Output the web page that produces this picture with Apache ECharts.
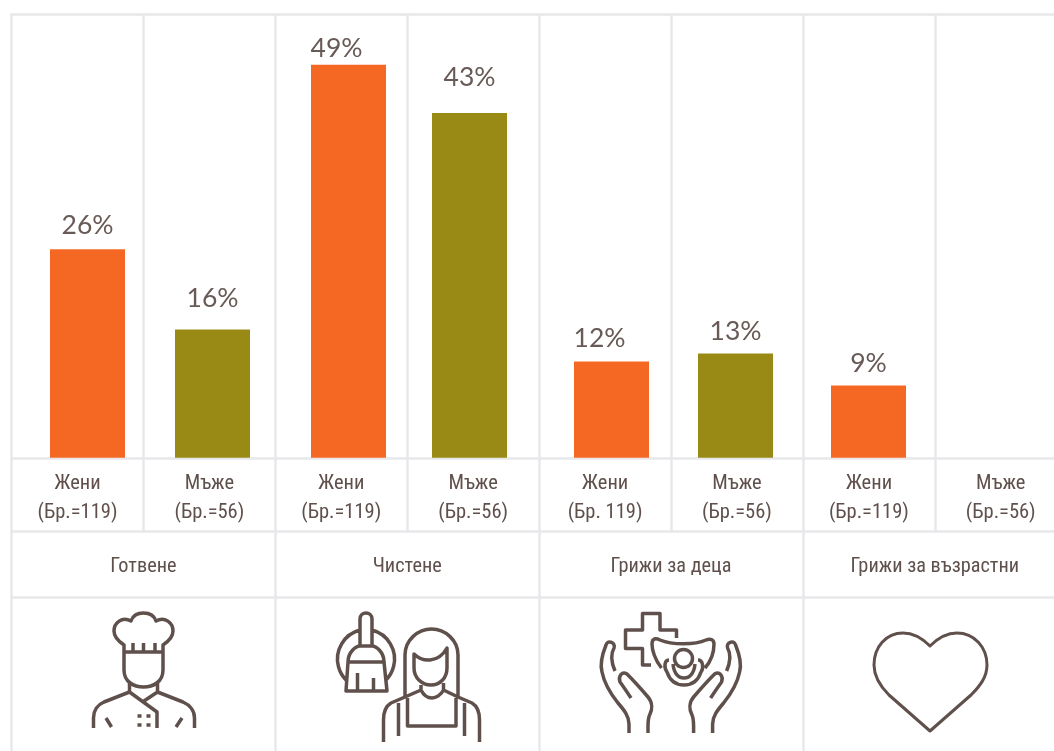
<!DOCTYPE html>
<html><head><meta charset="utf-8">
<style>html,body{margin:0;padding:0;background:#fff;overflow:hidden}#c{width:1054px;height:751px}</style>
<script src="https://cdn.jsdelivr.net/npm/echarts@6/dist/echarts.min.js"></script></head>
<body><div id="c"></div>
<script>
// data
const barCategories = ['Жени', 'Мъже'];
const womenValues = [26, 49, 12, 9];
const menValues = [16, 43, 13, null];
const sampleLabels = ['Жени\n(Бр.=119)','Мъже\n(Бр.=56)','Жени\n(Бр.=119)','Мъже\n(Бр.=56)','Жени\n(Бр. 119)','Мъже\n(Бр.=56)','Жени\n(Бр.=119)','Мъже\n(Бр.=56)'];
const activities = ['Готвене','Чистене','Грижи за деца','Грижи за възрастни'];

// layout and style
const LINE = '#e7e8ea', TEXT = '#5f504c', VALUE_TEXT = '#685a56', WOMEN = '#f56824', MEN = '#998a15';
const LEFT = 11.5, COL = 131.9, ALLW = COL * 8;
const plotTop = 14, plotBase = 457.8, yMax = (plotBase - plotTop) / 8.02;
const barGrids = [[25, 250], [288, 242], [549.5, 248], [806, 250]];
const womenLabelOffset = [[0, -5.5], [-12, 2], [-12, -5], [0, -3.5]];
const menLabelOffset = [[0, -13], [0, -17], [0, -4], [0, 0]];
const rows = [[14, 444.6], [458.6, 72.7], [531.3, 66], [597.3, 170]];
const narrow = 'Roboto,sans-serif';

const grid = [], xAxis = [], yAxis = [], series = [];
function rowAxis(i, data, label) {
  grid.push({left: LEFT, width: ALLW, top: rows[i][0], height: rows[i][1], containLabel: false, outerBoundsMode: 'none'});
  xAxis.push({type: 'category', gridIndex: i, position: 'top', data,
    axisLine: {show: true, onZero: false, lineStyle: {color: LINE, width: 2.5}},
    axisTick: {show: false},
    splitLine: {show: true, lineStyle: {color: LINE, width: 2.5}},
    axisLabel: label || {show: false}});
  yAxis.push({type: 'value', gridIndex: i, show: false, min: 0, max: 1});
}
rowAxis(0, sampleLabels.map((_, k) => String(k)));
rowAxis(1, sampleLabels, {show: true, inside: true, interval: 0, color: TEXT, fontFamily: narrow, fontWeight: 'condensed', fontSize: 20.5, lineHeight: 29, verticalAlign: 'top', margin: 11});
rowAxis(2, activities, {show: true, inside: true, interval: 0, color: TEXT, fontFamily: narrow, fontWeight: 'condensed', fontSize: 20.3, verticalAlign: 'middle', margin: 36});
rowAxis(3, activities.map(String));

barGrids.forEach((g, i) => {
  const idx = grid.length;
  grid.push({left: g[0], width: g[1], top: plotTop, height: plotBase - plotTop, outerBoundsMode: 'none'});
  xAxis.push({type: 'category', gridIndex: idx, data: barCategories, show: false});
  yAxis.push({type: 'value', gridIndex: idx, show: false, min: 0, max: yMax});
  series.push({type: 'bar', xAxisIndex: idx, yAxisIndex: idx, barWidth: 75, z: 5,
    data: [
      {value: womenValues[i], itemStyle: {color: WOMEN}, label: {offset: womenLabelOffset[i]}},
      {value: menValues[i], itemStyle: {color: MEN}, label: {offset: menLabelOffset[i]}}
    ],
    label: {show: true, position: 'top', distance: 5, formatter: p => p.value + '%', color: VALUE_TEXT, fontFamily: 'Lato', fontSize: 26.5}
  });
});

// icons (stroke outlines)
const icons = [
 // chef
 [3.5,'M124 652 L124 645 C118 641 114 637 114 631 C114 623 122 616 131 621 C133 615 138 613 143.5 613 C149 613 154 615 156 621 C165 616 173 623 173 631 C173 637 169 641 163 645 L163 652 Z M133 643 L133 652 M143.5 643 L143.5 652 M155 643 L155 652 M124 652 L124 670 C124 682 134 687 143.5 687 C153 687 163 682 163 670 L163 652 M129.5 681 L129.5 692 L157 712 L157 728 M157.5 681 L157.5 692 L144 701 M129.5 692 L104 702 C97 705 93.5 711 93.5 718 L93.5 728 M157.5 692 L183 702 C190 705 194.5 711 194.5 718 L194.5 728 M106 718 L111.5 727 M182 718 L176 727 M137.5 716 L141.5 716 M146.5 716 L150.5 716 M137.5 725 L141.5 725 M146.5 725 L150.5 725'],
 // cleaning
 [3.5,'M360 645 L360 619 C360 611 372 611 372 619 L372 645 M360 630 A30 30 0 0 0 346 680 M372 630 A30 30 0 0 1 386 680 M348 662 C348 652 356 646 360 646 L372 646 C376 646 384 652 384 662 Z M348 662 L346 691 L387 691 L384 662 M357.5 673 L357.5 691 M373.5 678 L373.5 691 M405 697 L405 655 C405 640 418 629 431.5 629 C445 629 458 640 458 655 L458 697 M414 654 C422 662 438 664 447 648 L447 668 C447 678 440 685 431 685 C422 685 414 678 414 668 Z M421 685 L421 690 C424 696 428 698 432 698 C436 698 441 695 443.5 690 L443.5 683 M421 690 L405 697 L391 703 C386 706 383.5 713 383.5 720 L383.5 742 M443.5 690 L458 697 L472 703 C477 706 479.5 713 479.5 720 L479.5 742 M407.5 698 L407.5 726 L456 726 L456 698 M398.5 703 L398.5 736 M464.5 703 L464.5 736'],
 // care
 [3.5,'M651 665 L642.5 665 L642.5 648.5 L625.5 648.5 L625.5 630 L642.5 630 L642.5 613.5 L660 613.5 L660 630 L676.5 630 L676.5 638 M661.5 668 C655 660 652 650 652 644 C652 638 656 638 660 640 C672 645 695 645 706 640 C711 638 714 640 714 644 C714 652 712 660 705 668 M692.5 658.5 A9 9 0 1 0 674.5 658.5 A9 9 0 1 0 692.5 658.5 M669 660 C664 660 664 668 667 672 C670 681 676 685 684 685 C692 685 698 681 701 672 C704 668 703 660 698 660 M673 664 C674 674 679 678 684 678 C689 678 694 674 695 664 M615 671 C612 664 610 655 614 648 C616 643 608 639 606 645 C602 655 600 665 602 672 C604 682 610 693 618 703 C624 710 629 716 629 724 L629 733 M726.6 671 C729.6 664 731.6 655 727.6 648 C725.6 643 733.6 639 735.6 645 C739.6 655 741.6 665 739.6 672 C737.6 682 731.6 693 723.6 703 C717.6 710 712.6 716 712.6 724 L712.6 733 M631 698 C627 692 623 686 620 682 C618 676 622 671 627 674 C633 680 642 690 648 697 C653 703 652 710 650 714 C648 718 648 722 648 726 L648 733 M710.6 698 C714.6 692 718.6 686 721.6 682 C723.6 676 719.6 671 714.6 674 C708.6 680 699.6 690 693.6 697 C688.6 703 689.6 710 691.6 714 C693.6 718 693.6 722 693.6 726 L693.6 733'],
 // heart
 [3,'M930 646 C921 637 912 633 903 633 C886 633 874 647 874 665 C874 677 880 686 889 695 L930 731 L971 695 C980 686 987 677 987 665 C987 647 974 633 957 633 C948 633 939 637 930 646 Z']
];
const graphic = icons.map((ic, i) => {
  echarts.graphic.registerShape('icon' + i, echarts.graphic.extendPath(ic[1], {}));
  return {type: 'icon' + i, z: 10,
    style: {fill: 'none', stroke: TEXT, lineWidth: ic[0], lineJoin: 'round'}};
});

const chart = echarts.init(document.getElementById('c'), null, {renderer: 'canvas', width: 1054, height: 751});
chart.setOption({animation: false, backgroundColor: '#fff', grid, xAxis, yAxis, series, graphic});
</script></body></html>
